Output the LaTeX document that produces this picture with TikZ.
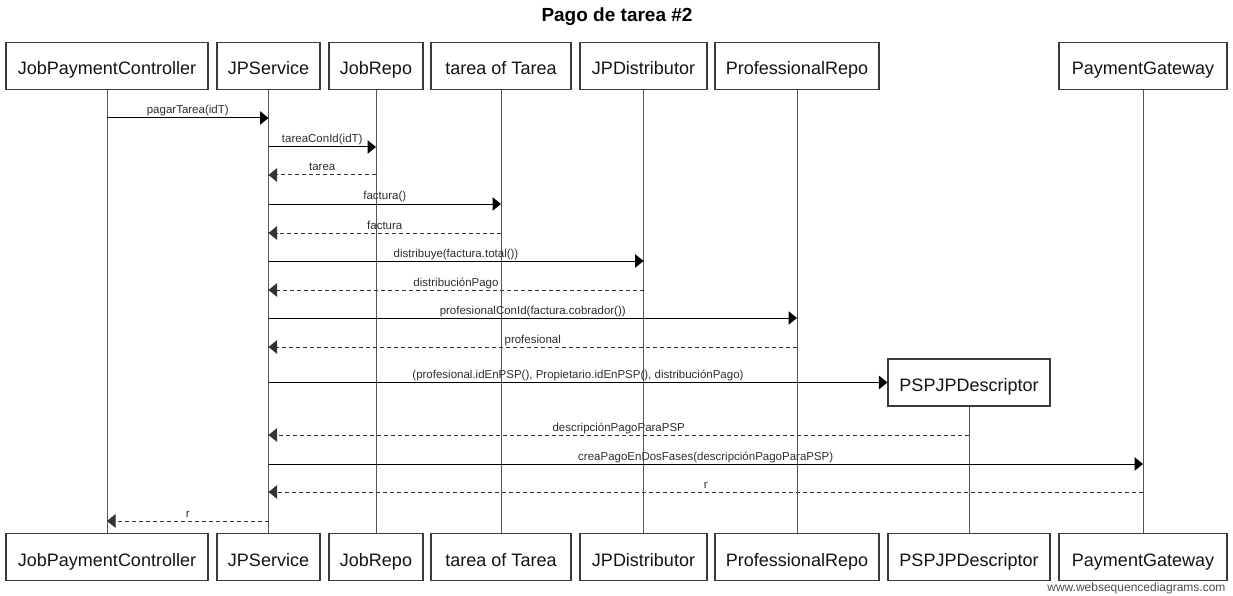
\documentclass[tikz,border=0pt]{standalone}
\usepackage{fontspec}
\setmainfont{Liberation Sans}
\usetikzlibrary{arrows.meta}
\definecolor{boxline}{HTML}{3A3A3A}
\definecolor{lifecol}{HTML}{555555}
\definecolor{msgtext}{HTML}{2E2E2E}
\begin{document}
\begin{tikzpicture}[x=1pt,y=-1pt,
  actor/.style={draw=boxline, line width=1.1pt, fill=white, minimum height=47pt,
    inner sep=0pt, text height=18pt, text depth=0pt,
    font=\fontsize{18}{21}\selectfont, text=black!92},
  lifeline/.style={draw=lifecol, line width=1pt},
  call/.style={draw=black, line width=1pt, -{Triangle[length=8.5pt,width=13.5pt]}},
  reply/.style={draw=black!80, line width=1pt, dash pattern=on 4pt off 3pt,
    -{Triangle[length=8.5pt,width=13.5pt]}},
  lbl/.style={font=\fontsize{11.5}{13}\selectfont, text=msgtext, inner sep=1pt,
    text depth=2.5pt, above, midway}
]
\useasboundingbox (0,0) rectangle (1233,596);

% title
\node[font=\bfseries\fontsize{19}{22}\selectfont, anchor=base] (title) at (617,22) {Pago de tarea \#2};

% participants, top row
\node[actor, minimum width=202pt] (jpc)  at (107,66)   {JobPaymentController};
\node[actor, minimum width=103pt] (jps)  at (268.5,66) {JPService};
\node[actor, minimum width=94pt]  (repo) at (376,66)   {JobRepo};
\node[actor, minimum width=140pt] (tar)  at (501,66)   {tarea of Tarea};
\node[actor, minimum width=127pt] (dist) at (643.5,66) {JPDistributor};
\node[actor, minimum width=164pt] (prof) at (797,66)   {ProfessionalRepo};
\node[actor, minimum width=168pt] (pg)   at (1143,66)  {PaymentGateway};

% participant created during the sequence
\node[actor, minimum width=162pt] (psp)  at (969,382.5) {PSPJPDescriptor};

% participants, bottom row
\node[actor, minimum width=202pt] (jpcB)  at (107,557)   {JobPaymentController};
\node[actor, minimum width=103pt] (jpsB)  at (268.5,557) {JPService};
\node[actor, minimum width=94pt]  (repoB) at (376,557)   {JobRepo};
\node[actor, minimum width=140pt] (tarB)  at (501,557)   {tarea of Tarea};
\node[actor, minimum width=127pt] (distB) at (643.5,557) {JPDistributor};
\node[actor, minimum width=164pt] (profB) at (797,557)   {ProfessionalRepo};
\node[actor, minimum width=162pt] (pspB)  at (969,557)   {PSPJPDescriptor};
\node[actor, minimum width=168pt] (pgB)   at (1143,557)  {PaymentGateway};

% lifelines
\draw[lifeline] (jpc)  -- (jpcB);
\draw[lifeline] (jps)  -- (jpsB);
\draw[lifeline] (repo) -- (repoB);
\draw[lifeline] (tar)  -- (tarB);
\draw[lifeline] (dist) -- (distB);
\draw[lifeline] (prof) -- (profB);
\draw[lifeline] (psp)  -- (pspB);
\draw[lifeline] (pg)   -- (pgB);

% message rows
\coordinate (m1)  at (0,118);
\coordinate (m2)  at (0,147);
\coordinate (m3)  at (0,175);
\coordinate (m4)  at (0,204);
\coordinate (m5)  at (0,233);
\coordinate (m6)  at (0,261);
\coordinate (m7)  at (0,290);
\coordinate (m8)  at (0,318);
\coordinate (m9)  at (0,347);
\coordinate (m11) at (0,435);
\coordinate (m12) at (0,464);
\coordinate (m13) at (0,492);
\coordinate (m14) at (0,521);

% messages
\draw[call]  (jpc |- m1)  -- (jps |- m1)  node[lbl] {pagarTarea(idT)};
\draw[call]  (jps |- m2)  -- (repo |- m2) node[lbl] {tareaConId(idT)};
\draw[reply] (repo |- m3) -- (jps |- m3)  node[lbl] {tarea};
\draw[call]  (jps |- m4)  -- (tar |- m4)  node[lbl] {factura()};
\draw[reply] (tar |- m5)  -- (jps |- m5)  node[lbl] {factura};
\draw[call]  (jps |- m6)  -- (dist |- m6) node[lbl] {distribuye(factura.total())};
\draw[reply] (dist |- m7) -- (jps |- m7)  node[lbl] {distribuciónPago};
\draw[call]  (jps |- m8)  -- (prof |- m8) node[lbl] {profesionalConId(factura.cobrador())};
\draw[reply] (prof |- m9) -- (jps |- m9)  node[lbl] {profesional};
\draw[call]  (jps |- psp.west) -- (psp.west)
  node[lbl] {(profesional.idEnPSP(), Propietario.idEnPSP(), distribuciónPago)};
\draw[reply] (psp |- m11) -- (jps |- m11) node[lbl] {descripciónPagoParaPSP};
\draw[call]  (jps |- m12) -- (pg |- m12)  node[lbl] {creaPagoEnDosFases(descripciónPagoParaPSP)};
\draw[reply] (pg |- m13)  -- (jps |- m13) node[lbl] {r};
\draw[reply] (jps |- m14) -- (jpc |- m14) node[lbl] {r};

% footer
\node[font=\fontsize{12}{14}\selectfont, text=black!70, anchor=east] (wsd) at (1229,588) {www.websequencediagrams.com};
\end{tikzpicture}
\end{document}
